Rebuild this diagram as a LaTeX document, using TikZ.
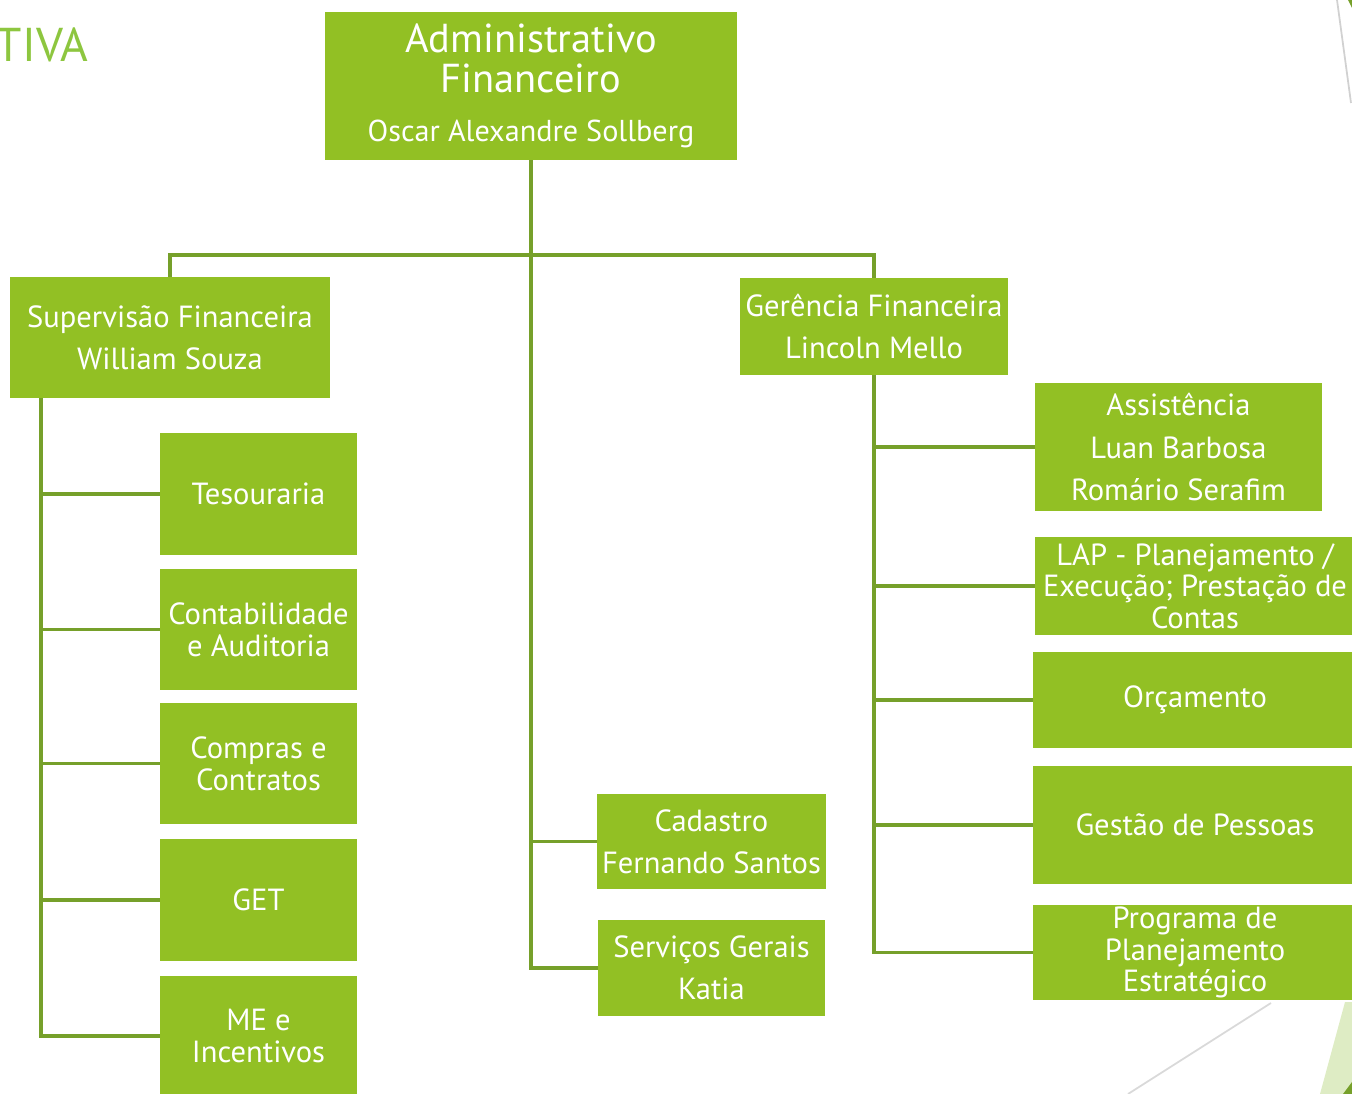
\documentclass[tikz,border=0pt]{standalone}
\usepackage{fontspec}
\setmainfont{PT Sans}
\usetikzlibrary{positioning}
\definecolor{boxgreen}{RGB}{146,192,36}
\definecolor{linegreen}{RGB}{118,160,42}
\definecolor{titlegreen}{RGB}{141,198,63}
\definecolor{palegreen}{RGB}{222,236,196}
\tikzstyle{box} = [fill=boxgreen, text=white, inner sep=0pt, align=center, font=\fontsize{17.4}{18}\selectfont]
\tikzstyle{conn} = [draw=linegreen, line width=2.2pt]

\begin{document}
\begin{tikzpicture}[x=0.02cm, y=-0.02cm]
			\useasboundingbox (0,0) rectangle (1352,1094);
			\clip (0,0) rectangle (1352,1094);
			%slide decoration
			\draw[black!18, line width=1pt] (1337,0) -- (1351,103);
			\draw[black!15, line width=1pt] (1271,1003) -- (1128,1094);
			\fill[palegreen] (1345,1002) -- (1352,1002) -- (1352,1094) -- (1320,1094) -- cycle;
			\fill[linegreen] (1343,1094) -- (1352,1082) -- (1352,1094) -- cycle;
			\fill[linegreen] (1348,0) -- (1352,0) -- (1352,8) -- cycle;
			
			\node[anchor=base east, inner sep=0pt, text=titlegreen, font=\fontsize{27}{30}\selectfont] (title) at (89,62) {TIVA};
			
			\node[box, minimum width=8.24cm, minimum height=2.96cm, font=\fontsize{23}{23}\selectfont] (admin) at (531,86) {Administrativo\\Financeiro\\[5pt]\fontsize{17.2}{18}\selectfont Oscar Alexandre Sollberg};
			\node[box, minimum width=6.4cm, minimum height=2.42cm] (sup) at (170,337.5) {Supervisão Financeira\\[6pt]William Souza};
			\node[box, minimum width=5.36cm, minimum height=1.94cm] (ger) at (874,326.5) {Gerência Financeira\\[6pt]Lincoln Mello};
			
			%lado esquerdo
			\node[box, minimum width=3.94cm, minimum height=2.44cm] (tes) at (258.5,494) {Tesouraria};
			\node[box, minimum width=3.94cm, minimum height=2.42cm] (cont) at (258.5,629.5) {Contabilidade\\e Auditoria};
			\node[box, minimum width=3.94cm, minimum height=2.42cm] (comp) at (258.5,763.5) {Compras e\\Contratos};
			\node[box, minimum width=3.94cm, minimum height=2.44cm] (get) at (258.5,900) {GET};
			\node[box, minimum width=3.94cm, minimum height=2.42cm] (me) at (258.5,1036) {ME e\\Incentivos};
			
			%centro
			\node[box, minimum width=4.58cm, minimum height=1.9cm] (cad) at (711.5,841.5) {Cadastro\\[6pt]Fernando Santos};
			\node[box, minimum width=4.54cm, minimum height=1.92cm] (serv) at (711.5,968) {Serviços Gerais\\[6pt]Katia};
			
			%lado direito
			\node[box, minimum width=5.74cm, minimum height=2.56cm] (assis) at (1178.5,447) {Assistência\\[6pt]Luan Barbosa\\[6pt]Romário Serafim};
			\node[box, minimum width=6.4cm, minimum height=1.96cm] (lap) at (1195,586) {LAP - Planejamento /\\Execução; Prestação de\\Contas};
			\node[box, minimum width=6.48cm, minimum height=1.92cm] (orc) at (1195,700) {Orçamento};
			\node[box, minimum width=6.48cm, minimum height=2.36cm] (gest) at (1195,825) {Gestão de Pessoas};
			\node[box, minimum width=6.48cm, minimum height=1.9cm] (prog) at (1195,952.5) {Programa de\\Planejamento\\Estratégico};
			
			%ligacoes
			\draw[conn] (admin.south) -- (admin.south |- serv.west) -- (serv.west);
			\draw[conn] (admin.south |- cad.west) -- (cad.west);
			\draw[conn] (sup.north) -- ++(0,-22) -| (ger.north);
			
			\coordinate (lt) at ([xshift=0.62cm]sup.south west);
			\draw[conn] (lt) |- (me.west);
			\foreach \n in {tes,cont,comp,get}
				\draw[conn] (lt |- \n.west) -- (\n.west);
			
			\draw[conn] (ger.south) |- (prog.west);
			\foreach \n in {assis,lap,orc,gest}
				\draw[conn] (ger.south |- \n.west) -- (\n.west);
			
		\end{tikzpicture}
\end{document}
